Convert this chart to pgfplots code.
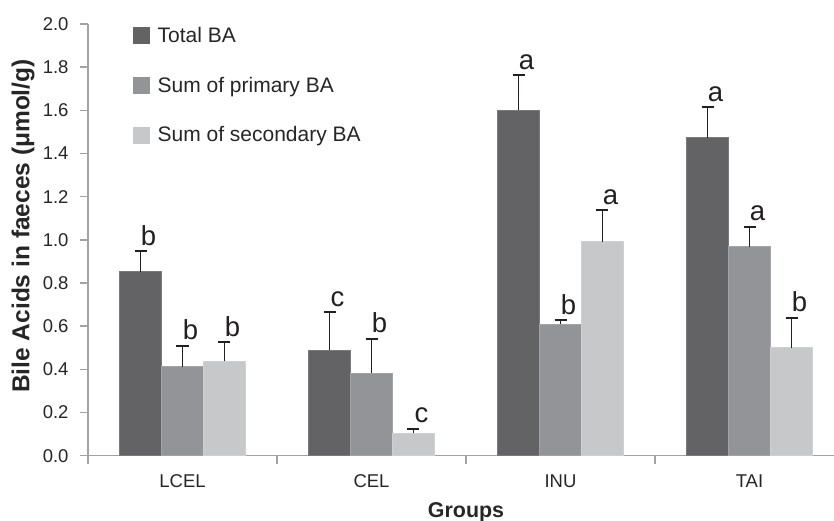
\documentclass[border=0pt]{standalone}
\usepackage{fontspec}
\setmainfont{Liberation Sans}
\usepackage{pgfplots}
\pgfplotsset{compat=1.18}
\usepackage{pgfplotstable}
\definecolor{cTot}{HTML}{636365}
\definecolor{cPri}{HTML}{939498}
\definecolor{cSec}{HTML}{C7C8CA}
\definecolor{axgray}{HTML}{A3A3A3}
\definecolor{errc}{HTML}{231F20}

\pgfplotstableread{
x y e
0 0.852 0.095
1 0.488 0.176
2 1.601 0.161
3 1.473 0.142
}\tot
\pgfplotstableread{
x y e
0 0.412 0.098
1 0.383 0.158
2 0.609 0.018
3 0.968 0.093
}\pri
\pgfplotstableread{
x y e
0 0.437 0.088
1 0.104 0.021
2 0.991 0.146
3 0.500 0.138
}\sec

\begin{document}
\begin{tikzpicture}
\begin{axis}[
  scale only axis, width=756bp, height=431.7bp,
  xmin=-0.5, xmax=3.5, ymin=0, ymax=2,
  axis x line*=bottom, axis y line*=left,
  axis line style={axgray, line width=1.4bp},
  every tick/.style={axgray, line width=1.4bp},
  tick align=outside, major tick length=8bp,
  ytick={0,0.2,0.4,0.6,0.8,1.0,1.2,1.4,1.6,1.8,2.0},
  yticklabel style={font=\fontsize{18.5bp}{22bp}\selectfont, color=black!85, anchor=east, xshift=-8bp,
    /pgf/number format/fixed, /pgf/number format/fixed zerofill, /pgf/number format/precision=1, /pgf/number format/assume math mode=true},
  xtick={-0.5,0.5,1.5,2.5,3.5}, xticklabels={},
  extra x ticks={0,1,2,3}, extra x tick labels={LCEL,CEL,INU,TAI},
  extra x tick style={major tick length=0pt, xticklabel style={anchor=base, yshift=-32bp, font=\fontsize{18.5bp}{22bp}\selectfont, color=black!85}},
  ybar=0pt, bar width=0.2222,
  xlabel={Groups},
  xlabel style={at={(axis description cs:0.5,0)}, anchor=center, yshift=-57bp, font=\bfseries\fontsize{21.4bp}{25bp}\selectfont, color=black!85},
  ylabel={Bile Acids in faeces (μmol/g)},
  ylabel style={at={(axis description cs:-0.0860,0.532)}, anchor=center, font=\bfseries\fontsize{24.5bp}{28bp}\selectfont, color=black!85},
  legend style={draw=none, fill=none, at={(axis description cs:0,1)}, anchor=north west, xshift=45bp, yshift=-3bp,
    font=\fontsize{21bp}{25bp}\selectfont, row sep=33bp, inner sep=0pt, nodes={inner sep=0pt, text=black!85}},
  legend cell align=left,
  clip=false,
]
\addplot[fill=cTot, draw=cTot!85!white, line width=0.6bp, forget plot, bar shift=-0.2222,
  error bars/.cd, y dir=plus, y explicit, error mark=-,
  error bar style={errc, line width=1.8bp},
  error mark options={draw=errc, rotate=90, mark size=6bp, line width=1.8bp}]
  table[x=x, y=y, y error=e]{\tot};
\addplot[fill=cPri, draw=cPri!85!white, line width=0.6bp, forget plot, bar shift=0,
  error bars/.cd, y dir=plus, y explicit, error mark=-,
  error bar style={errc, line width=1.8bp},
  error mark options={draw=errc, rotate=90, mark size=6bp, line width=1.8bp}]
  table[x=x, y=y, y error=e]{\pri};
\addplot[fill=cSec, draw=cSec!85!white, line width=0.6bp, forget plot, bar shift=0.2222,
  error bars/.cd, y dir=plus, y explicit, error mark=-,
  error bar style={errc, line width=1.8bp},
  error mark options={draw=errc, rotate=90, mark size=6bp, line width=1.8bp}]
  table[x=x, y=y, y error=e]{\sec};

\addlegendimage{legend image code/.code={\fill[cTot] (0bp,-8bp) rectangle (16bp,8bp); \path (24bp,0bp);}}
\addlegendentry{Total BA}
\addlegendimage{legend image code/.code={\fill[cPri] (0bp,-8bp) rectangle (16bp,8bp); \path (24bp,0bp);}}
\addlegendentry{Sum of primary BA}
\addlegendimage{legend image code/.code={\fill[cSec] (0bp,-8bp) rectangle (16bp,8bp); \path (24bp,0bp);}}
\addlegendentry{Sum of secondary BA}

\tikzset{lett/.style={anchor=base, yshift=6bp, xshift=8bp, font=\fontsize{27.5bp}{32bp}\selectfont, text=errc, inner sep=0pt}}
\node[lett] at (axis cs:-0.2222,0.947) {b};
\node[lett] at (axis cs:0,0.510) {b};
\node[lett] at (axis cs:0.2222,0.525) {b};
\node[lett] at (axis cs:0.7778,0.664) {c};
\node[lett] at (axis cs:1,0.541) {b};
\node[lett] at (axis cs:1.2222,0.125) {c};
\node[lett] at (axis cs:1.7778,1.762) {a};
\node[lett] at (axis cs:2,0.627) {b};
\node[lett] at (axis cs:2.2222,1.137) {a};
\node[lett] at (axis cs:2.7778,1.615) {a};
\node[lett] at (axis cs:3,1.061) {a};
\node[lett] at (axis cs:3.2222,0.638) {b};
\end{axis}
\pgfresetboundingbox
\path (-88bp,-65.3bp) rectangle (746bp,455.7bp);
\end{tikzpicture}
\end{document}
